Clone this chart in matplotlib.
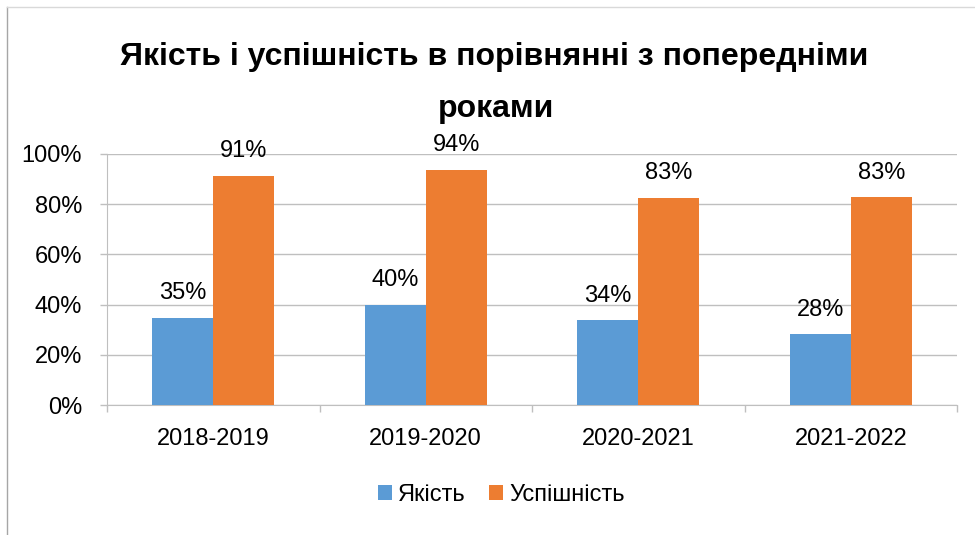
import matplotlib
matplotlib.use("Agg")
import matplotlib.pyplot as plt
import numpy as np
from matplotlib.lines import Line2D

categories = ["2018-2019", "2019-2020", "2020-2021", "2021-2022"]
quality = [0.348, 0.397, 0.337, 0.281]
success = [0.912, 0.936, 0.826, 0.827]
series_names = ["Якість", "Успішність"]
yticks = [0, 0.2, 0.4, 0.6, 0.8, 1.0]
title_lines = ["Якість і успішність в порівнянні з попередніми", "роками"]

plt.rcParams['font.family'] = ['Liberation Sans', 'DejaVu Sans']

W, H = 975, 535
fig = plt.figure(figsize=(W / 100, H / 100), dpi=100)
ax = fig.add_axes([107 / W, 1 - 405 / H, (957 - 107) / W, (405 - 154) / H])

blue = "#5B9BD5"
orange = "#ED7D31"
grid_c = "#BFBFBF"
fs = 17

x = np.arange(len(categories))
bw = 0.287
b1 = ax.bar(x - bw / 2, quality, bw, color=blue, label=series_names[0], zorder=3)
b2 = ax.bar(x + bw / 2, success, bw, color=orange, label=series_names[1], zorder=3)

for bars, vals in ((b1, quality), (b2, success)):
    for rect, v in zip(bars, vals):
        ax.annotate(f"{round(v * 100):d}%",
                    (rect.get_x() + rect.get_width() / 2, v),
                    xytext=(0, 10), textcoords="offset points",
                    ha="center", va="bottom", fontsize=fs, color="#000000",
                    annotation_clip=False)

ax.set_xlim(-0.5, len(categories) - 0.5)
ax.set_ylim(0, 1.0)
ax.set_yticks(yticks)
ax.set_yticklabels([f"{int(round(t * 100))}%" for t in yticks], fontsize=fs)
ax.yaxis.grid(True, color=grid_c, linewidth=1, zorder=0)
ax.set_axisbelow(True)

ax.set_xticks(x)
ax.set_xticklabels(categories, fontsize=fs)
ax.tick_params(axis='x', length=0, pad=16.5)
ax.set_xticks(np.arange(-0.5, len(categories)), minor=True)
ax.tick_params(axis='x', which='minor', length=5, color=grid_c, width=1)
ax.tick_params(axis='y', length=5, color=grid_c, width=1, pad=13)

for s in ("top", "right"):
    ax.spines[s].set_visible(False)
ax.spines["left"].set_color(grid_c)
ax.spines["bottom"].set_color(grid_c)

fig.text(494 / W, 1 - 65 / H, title_lines[0], ha="center", va="baseline",
         fontsize=23, fontweight="bold")
fig.text(496 / W, 1 - 117 / H, title_lines[1], ha="center", va="baseline",
         fontsize=23, fontweight="bold")

ax.legend(handles=[b1, b2], loc="center", bbox_to_anchor=(501 / W, 1 - 495 / H),
          bbox_transform=fig.transFigure, ncol=2, frameon=False, fontsize=fs,
          handlelength=0.6, handleheight=0.6, handletextpad=0.25, columnspacing=1.0)

# chart border (partially visible)
fig.add_artist(Line2D([7 / W, 7 / W], [0, 1 - 7 / H], transform=fig.transFigure,
                      color="#A6A6A6", linewidth=1))
fig.add_artist(Line2D([7 / W, 1], [1 - 7 / H, 1 - 7 / H], transform=fig.transFigure,
                      color="#D9D9D9", linewidth=1))

fig.savefig("out.png", dpi=100)
